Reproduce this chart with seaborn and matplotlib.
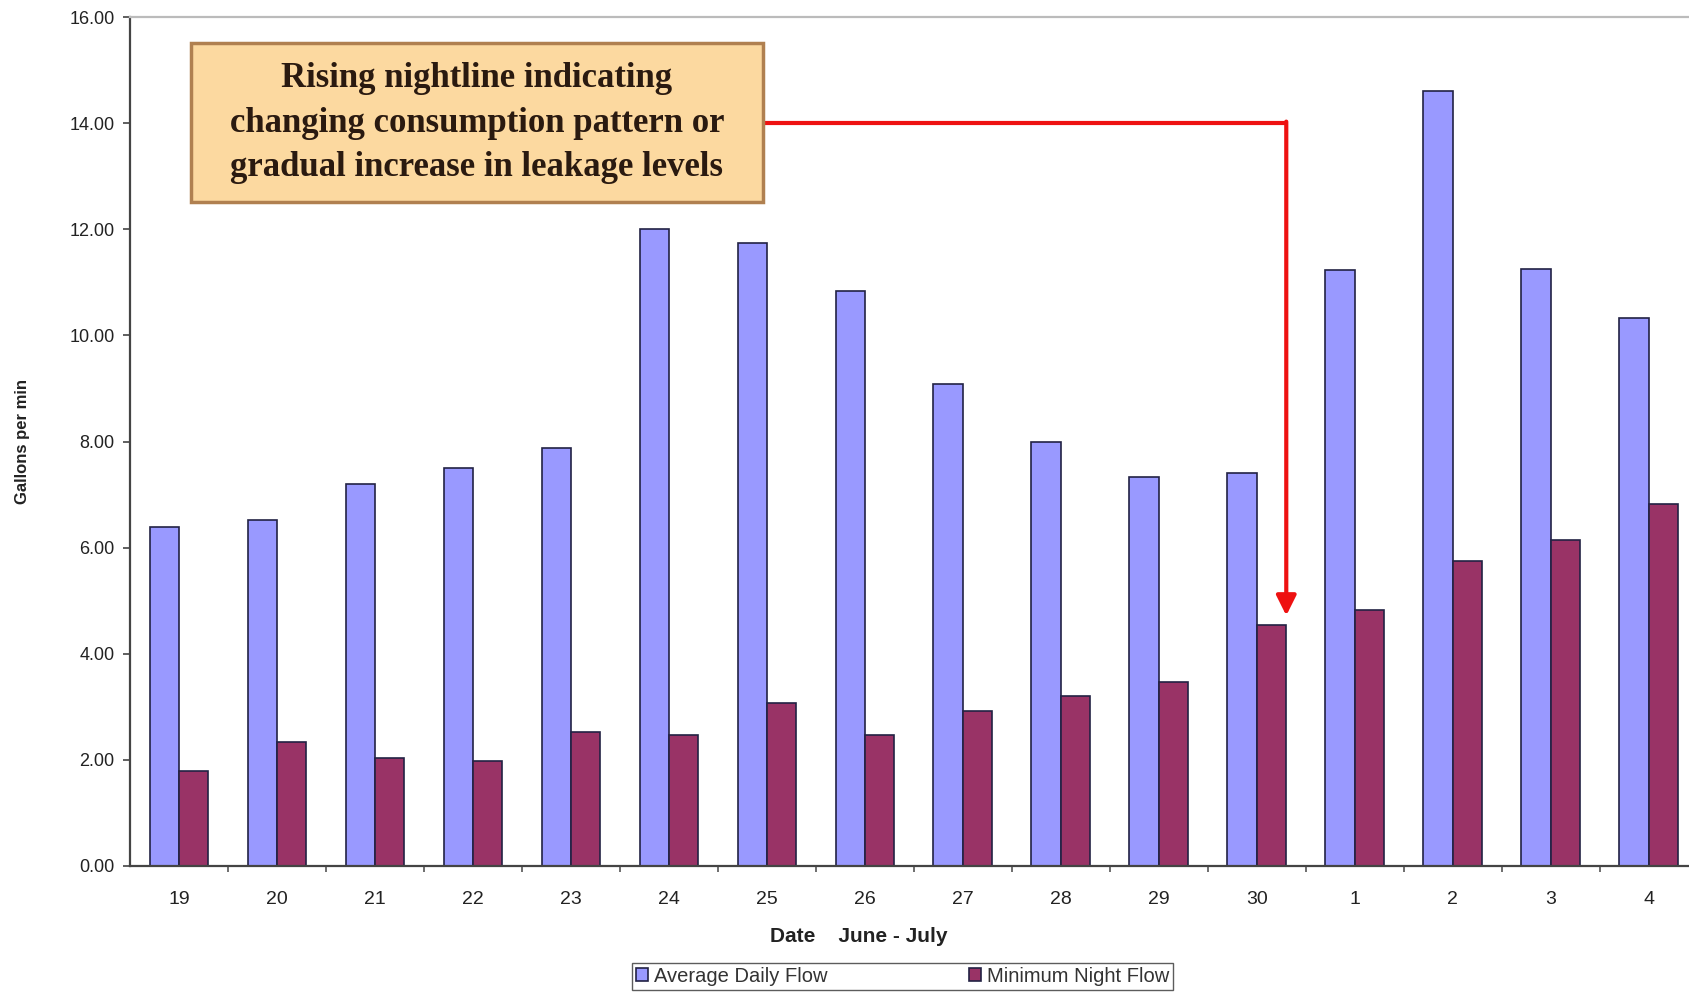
import matplotlib
matplotlib.use("Agg")
import matplotlib.pyplot as plt
from matplotlib.patches import Rectangle
import numpy as np
import pandas as pd
import seaborn as sns

# Data
dias = ["19", "20", "21", "22", "23", "24", "25", "26", "27", "28", "29", "30", "1", "2", "3", "4"]
flujo_promedio = [6.38, 6.52, 7.20, 7.50, 7.87, 12.00, 11.75, 10.83, 9.08, 7.99, 7.34, 7.40, 11.24, 14.61, 11.26, 10.33]
flujo_nocturno = [1.79, 2.34, 2.03, 1.97, 2.52, 2.46, 3.07, 2.46, 2.93, 3.21, 3.46, 4.55, 4.82, 5.75, 6.14, 6.83]
series = ["Average Daily Flow", "Minimum Night Flow"]

df = pd.DataFrame({
    "dia": dias * 2,
    "valor": flujo_promedio + flujo_nocturno,
    "serie": [series[0]] * len(dias) + [series[1]] * len(dias),
})

sns.set_style("white")
plt.rcParams["font.family"] = ["Liberation Sans", "DejaVu Sans"]

fig = plt.figure(figsize=(16.9, 9.94), dpi=100)
ax = fig.add_axes([0.0769, 0.1288, 0.9231, 0.854])

sns.barplot(data=df, x="dia", y="valor", hue="serie", order=dias,
            palette=["#9999FF", "#993366"], width=0.6, saturation=1,
            edgecolor="#222244", linewidth=1.2, ax=ax, legend=True)

ax.set_ylim(0, 16)
ax.set_xlim(-0.5, 15.42)
ax.set_yticks(np.arange(0, 16.1, 2))
ax.set_yticklabels([f"{v:.2f}" for v in np.arange(0, 16.1, 2)], fontsize=13, color="#222222")
ax.set_xticks(range(len(dias)))
ax.set_xticklabels(dias, fontsize=14, color="#222222")
ax.tick_params(axis="x", length=0, pad=18)
ax.tick_params(axis="y", length=5, width=1.2, color="#444444", direction="out", left=True, pad=6)
ax.set_xticks(np.arange(0.5, 15.5, 1), minor=True)
ax.tick_params(axis="x", which="minor", length=4, width=1.2, color="#555555", bottom=True)

for lado in ["left", "bottom"]:
    ax.spines[lado].set_color("#444444")
    ax.spines[lado].set_linewidth(1.6)
ax.spines["right"].set_visible(False)
ax.spines["top"].set_color("#bbbbbb")
ax.spines["top"].set_linewidth(1.6)

ax.set_ylabel("Gallons per min", fontsize=12, fontweight="bold", color="#222222")
ax.yaxis.set_label_coords(-0.064, 0.5)
ax.set_xlabel("Date    June - July", fontsize=15, fontweight="bold", color="#222222")
ax.xaxis.set_label_coords(0.467, -0.072)

# annotation box and red arrow
ax.add_patch(Rectangle((0.12, 12.52), 5.84, 2.99, facecolor="#FCD9A0",
                       edgecolor="#b08050", linewidth=2.5, zorder=3))
ax.text(3.04, 14.0,
        "Rising nightline indicating\nchanging consumption pattern or\ngradual increase in leakage levels",
        fontsize=25, fontweight="bold", family=["Liberation Serif", "DejaVu Serif"], color="#2a1a10",
        ha="center", va="center", linespacing=1.45, zorder=4)
ax.plot([5.96, 11.3], [14.0, 14.0], color="#ee1111", linewidth=3)
ax.annotate("", xy=(11.3, 4.72), xytext=(11.3, 14.03),
            arrowprops=dict(arrowstyle="-|>,head_width=0.6,head_length=1.2",
                            color="#ee1111", linewidth=3, shrinkA=0, shrinkB=0))

ax.legend(loc="center", bbox_to_anchor=(0.534, 0.018), bbox_transform=fig.transFigure,
          ncol=2, frameon=True, fancybox=False, edgecolor="#333333", fontsize=14.5,
          handlelength=0.6, handleheight=0.6, columnspacing=7.0, handletextpad=0.3,
          borderpad=0.2, borderaxespad=0, labelcolor="#333333")

plt.savefig("out.png", dpi=100)
